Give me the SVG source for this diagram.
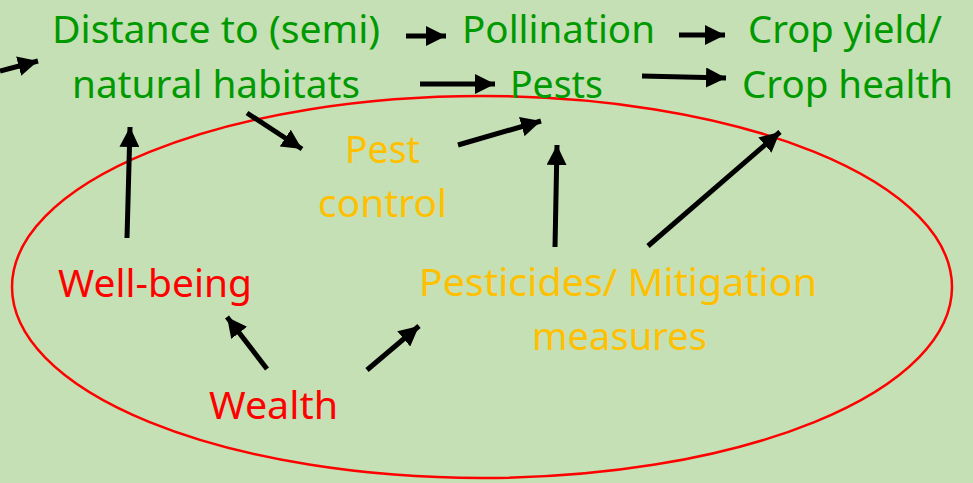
<svg xmlns="http://www.w3.org/2000/svg" width="973" height="483" viewBox="0 0 973 483">
<defs>
<marker id="ah" viewBox="0 0 10 10" refX="10" refY="5" markerWidth="4" markerHeight="4" orient="auto" markerUnits="strokeWidth">
<path d="M0,0 L10,5 L0,10 Z" fill="#000"/>
</marker>
<style>
text{font-family:"Noto Sans","Open Sans","Liberation Sans",sans-serif;font-size:39px}
.g{fill:#009900}
.o{fill:#FFC000}
.r{fill:#FF0000}
.c line{stroke:#000;stroke-width:5;marker-end:url(#ah)}
</style>
</defs>
<rect width="973" height="483" fill="#C5E0B4"/>
<ellipse id="ellipse" cx="482" cy="287" rx="470" ry="191" fill="none" stroke="#FF0000" stroke-width="2.5"/>
<g id="distance"><text class="g" x="52" y="43" textLength="328" lengthAdjust="spacingAndGlyphs">Distance to (semi)</text><text class="g" x="72" y="98" textLength="288" lengthAdjust="spacingAndGlyphs">natural habitats</text></g>
<g id="pollination"><text class="g" x="462" y="43" textLength="193" lengthAdjust="spacingAndGlyphs">Pollination</text></g>
<g id="pests"><text class="g" x="510" y="98" textLength="93" lengthAdjust="spacingAndGlyphs">Pests</text></g>
<g id="crop"><text class="g" x="748" y="43" textLength="194" lengthAdjust="spacingAndGlyphs">Crop yield/</text><text class="g" x="742" y="98" textLength="211" lengthAdjust="spacingAndGlyphs">Crop health</text></g>
<g id="pestcontrol"><text class="o" x="345" y="163" textLength="75" lengthAdjust="spacingAndGlyphs">Pest</text><text class="o" x="318" y="217" textLength="129" lengthAdjust="spacingAndGlyphs">control</text></g>
<g id="wellbeing"><text class="r" x="58" y="297" textLength="194" lengthAdjust="spacingAndGlyphs">Well-being</text></g>
<g id="pesticides"><text class="o" x="419" y="296" textLength="398" lengthAdjust="spacingAndGlyphs">Pesticides/ Mitigation</text><text class="o" x="532" y="350" textLength="175" lengthAdjust="spacingAndGlyphs">measures</text></g>
<g id="wealth"><text class="r" x="209" y="419" textLength="129" lengthAdjust="spacingAndGlyphs">Wealth</text></g>
<g id="connectors" class="c">
<line x1="0" y1="71" x2="38" y2="61"/>
<line x1="406" y1="36" x2="446" y2="36"/>
<line x1="679" y1="35" x2="725" y2="35"/>
<line x1="420" y1="84" x2="495" y2="84"/>
<line x1="642" y1="76" x2="726" y2="78"/>
<line x1="247" y1="113" x2="302" y2="149"/>
<line x1="458" y1="145" x2="541" y2="121"/>
<line x1="555" y1="247" x2="557" y2="145"/>
<line x1="648" y1="246" x2="780" y2="132"/>
<line x1="127" y1="238" x2="130" y2="127"/>
<line x1="267" y1="369" x2="227" y2="317"/>
<line x1="367" y1="370" x2="419" y2="326"/>
</g>
</svg>
